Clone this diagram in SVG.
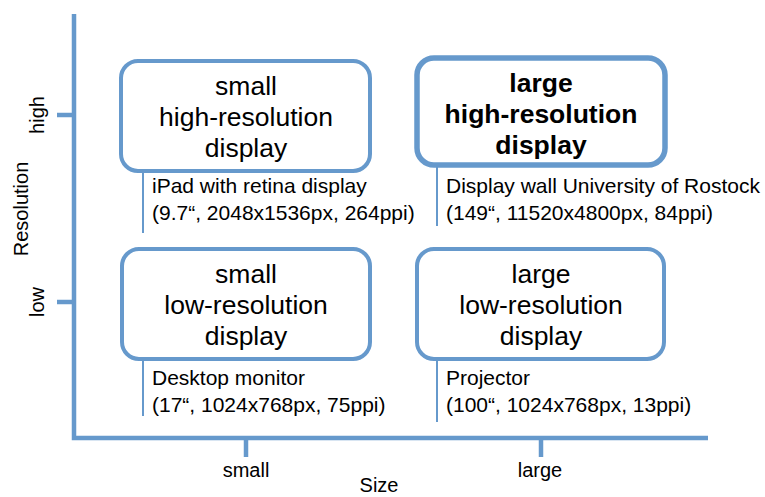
<svg xmlns="http://www.w3.org/2000/svg" width="765" height="497" viewBox="0 0 765 497">
  <style>
    .axis { stroke: #6699cc; stroke-width: 4.5; fill: none; }
    .tick { stroke: #6699cc; stroke-width: 4.5; fill: none; }
    .box { fill: #ffffff; stroke: #6699cc; stroke-width: 4; }
    .box-bold { fill: #ffffff; stroke: #6699cc; stroke-width: 5.5; }
    .lead { stroke: #6699cc; stroke-width: 2; fill: none; }
    text { font-family: "Liberation Sans", Arial, sans-serif; fill: #000000; }
    .title { font-size: 26.5px; text-anchor: middle; }
    .title-bold { font-size: 26.5px; font-weight: bold; text-anchor: middle; }
    .note { font-size: 21px; }
    .axis-label { font-size: 20px; text-anchor: middle; }
  </style>

  <!-- axes -->
  <g id="axes">
    <polyline class="axis" points="74,14 74,438 708,438"/>
    <line class="tick" x1="57" y1="115" x2="74" y2="115"/>
    <line class="tick" x1="57" y1="302" x2="74" y2="302"/>
    <line class="tick" x1="246" y1="438" x2="246" y2="457"/>
    <line class="tick" x1="541" y1="438" x2="541" y2="457"/>
    <text class="axis-label" transform="translate(44,115) rotate(-90)">high</text>
    <text class="axis-label" transform="translate(44,302) rotate(-90)">low</text>
    <text class="axis-label" transform="translate(28,209) rotate(-90)">Resolution</text>
    <text class="axis-label" x="246" y="477">small</text>
    <text class="axis-label" x="540" y="477">large</text>
    <text class="axis-label" x="379" y="492">Size</text>
  </g>

  <!-- callout leaders -->
  <g id="connectors">
    <line class="lead" x1="143" y1="172" x2="143" y2="233"/>
    <line class="lead" x1="437" y1="167" x2="437" y2="226"/>
    <line class="lead" x1="143" y1="360" x2="143" y2="416"/>
    <line class="lead" x1="437" y1="360" x2="437" y2="422"/>
  </g>

  <g id="small-high">
    <rect class="box" x="121" y="61" width="249" height="110" rx="17"/>
    <text class="title" x="246" y="95">small</text>
    <text class="title" x="246" y="126">high-resolution</text>
    <text class="title" x="246" y="157">display</text>
    <text class="note" x="152" y="193">iPad with retina display</text>
    <text class="note" x="152" y="220">(9.7“, 2048x1536px, 264ppi)</text>
  </g>

  <g id="large-high">
    <rect class="box-bold" x="417" y="58" width="248" height="107" rx="17"/>
    <text class="title-bold" x="541" y="92">large</text>
    <text class="title-bold" x="541" y="123">high-resolution</text>
    <text class="title-bold" x="541" y="154">display</text>
    <text class="note" x="446" y="193">Display wall University of Rostock</text>
    <text class="note" x="446" y="220">(149“, 11520x4800px, 84ppi)</text>
  </g>

  <g id="small-low">
    <rect class="box" x="122" y="249" width="248" height="110" rx="17"/>
    <text class="title" x="246" y="283">small</text>
    <text class="title" x="246" y="314">low-resolution</text>
    <text class="title" x="246" y="345">display</text>
    <text class="note" x="152" y="385">Desktop monitor</text>
    <text class="note" x="152" y="412">(17“, 1024x768px, 75ppi)</text>
  </g>

  <g id="large-low">
    <rect class="box" x="417" y="249" width="247" height="110" rx="17"/>
    <text class="title" x="541" y="283">large</text>
    <text class="title" x="541" y="314">low-resolution</text>
    <text class="title" x="541" y="345">display</text>
    <text class="note" x="446" y="385">Projector</text>
    <text class="note" x="446" y="412">(100“, 1024x768px, 13ppi)</text>
  </g>
</svg>
